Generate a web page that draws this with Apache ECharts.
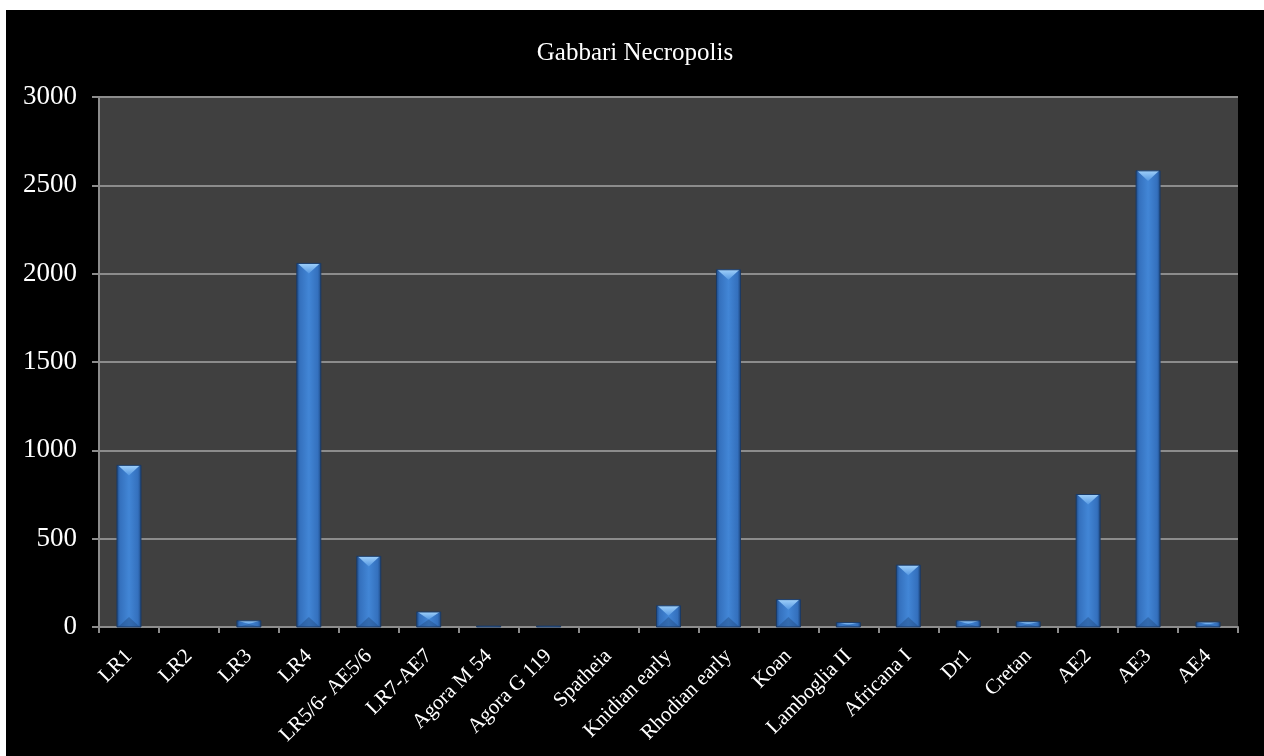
<!DOCTYPE html>
<html>
<head>
<meta charset="utf-8">
<script src="https://cdn.jsdelivr.net/npm/echarts@6/dist/echarts.min.js"></script>
<style>
  html, body { margin: 0; padding: 0; background: #fff; width: 1264px; height: 756px; overflow: hidden; }
  #chart { position: absolute; left: 6px; top: 10px; width: 1258px; height: 746px; background: #000; }
</style>
</head>
<body>
<div id="chart"></div>
<script>
// Amphora types found at the Gabbari necropolis and their counts
const categories = [
  'LR1', 'LR2', 'LR3', 'LR4', 'LR5/6- AE5/6', 'LR7-AE7', 'Agora M 54', 'Agora G 119',
  'Spatheia', 'Knidian early', 'Rhodian early', 'Koan', 'Lamboglia II', 'Africana I',
  'Dr1', 'Cretan', 'AE2', 'AE3', 'AE4'
];
const counts = [
  915, 0, 35, 2058, 400, 85, 5, 5,
  0, 120, 2022, 155, 25, 350,
  35, 30, 750, 2582, 28
];
const yMin = 0;
const yMax = 3000;
const yStep = 500;

const serif = '"Liberation Serif", "Times New Roman", serif';

// Bevelled bar: shaded body, light top facet, darker bottom facet
function renderBevelBar(params, api) {
  const idx = api.value(0);
  const val = api.value(1);
  const top = api.coord([idx, val]);
  const base = api.coord([idx, 0]);
  const band = api.size([1, 0])[0];
  const w = band * 0.4;
  const x = top[0] - w / 2;
  const y = top[1];
  const h = base[1] - top[1];
  if (h <= 0.2) return null;
  const cx = top[0];
  const d = Math.min(w * 0.42, h / 2);
  const body = new echarts.graphic.LinearGradient(0, 0, 1, 0, [
    { offset: 0, color: '#1f4c88' },
    { offset: 0.12, color: '#3470bd' },
    { offset: 0.5, color: '#4286d6' },
    { offset: 0.88, color: '#3470bd' },
    { offset: 1, color: '#1f4c88' }
  ]);
  const cap = new echarts.graphic.LinearGradient(0, 0, 0, 1, [
    { offset: 0, color: '#9fd0fa' },
    { offset: 1, color: '#5598e2' }
  ]);
  return {
    type: 'group',
    children: [
      { type: 'rect', shape: { x: x, y: y, width: w, height: h }, style: { fill: body } },
      { type: 'polygon', shape: { points: [[x + 1, y], [x + w - 1, y], [cx, y + d]] }, style: { fill: cap } },
      { type: 'polygon', shape: { points: [[x + 1, base[1]], [x + w - 1, base[1]], [cx, base[1] - d]] }, style: { fill: 'rgba(25,60,110,0.35)' } },
      { type: 'rect', shape: { x: x, y: y, width: w, height: h }, style: { fill: 'none', stroke: '#1a3a66', lineWidth: 1 } }
    ]
  };
}

const chart = echarts.init(document.getElementById('chart'));
chart.setOption({
  backgroundColor: '#000',
  animation: false,
  title: {
    text: 'Gabbari Necropolis',
    left: 'center',
    top: 26,
    textStyle: { color: '#fff', fontFamily: serif, fontSize: 25, fontWeight: 'normal' }
  },
  grid: {
    left: 93, right: 26, top: 87, bottom: 129,
    show: true, backgroundColor: '#404040', borderWidth: 0
  },
  xAxis: {
    type: 'category',
    data: categories,
    boundaryGap: true,
    axisLine: { show: true, lineStyle: { color: '#8c8c8c', width: 2 } },
    axisTick: { show: true, length: 6, lineStyle: { color: '#8c8c8c', width: 2 } },
    axisLabel: {
      interval: 0, rotate: 45, margin: 26,
      color: '#fff', fontFamily: serif, fontSize: 21
    }
  },
  yAxis: {
    type: 'value',
    min: yMin, max: yMax, interval: yStep,
    axisLine: { show: true, lineStyle: { color: '#8c8c8c', width: 2 } },
    axisTick: { show: true, length: 7, lineStyle: { color: '#8c8c8c', width: 2 } },
    splitLine: { show: true, lineStyle: { color: '#8c8c8c', width: 2 } },
    axisLabel: {
      color: '#fff', fontFamily: serif, fontSize: 27, margin: 22,
      formatter: (v) => String(v)
    }
  },
  series: [{
    type: 'custom',
    renderItem: renderBevelBar,
    encode: { x: 0, y: 1 },
    data: counts.map((v, i) => [i, v])
  }]
});
</script>
</body>
</html>
